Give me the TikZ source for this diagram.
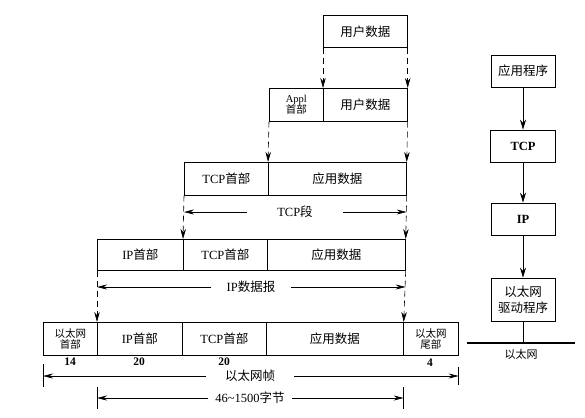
\documentclass[tikz,border=0pt]{standalone}
\usepackage{fontspec}
\setmainfont{Liberation Serif}
\newfontfamily\cjk{Noto Sans CJK SC}
\usetikzlibrary{arrows.meta}
\newcommand{\zh}[1]{{\cjk #1}}
\begin{document}
\begin{tikzpicture}[x=1pt,y=-1pt,
  box/.style={draw, line width=0.7pt, inner sep=0pt, anchor=north west, align=center,
              font=\fontsize{12.5}{14}\selectfont},
  small/.style={font=\fontsize{10.5}{11.5}\selectfont},
  num/.style={font=\fontsize{11.5}{12}\selectfont\bfseries},
  dimlab/.style={inner ysep=0pt, font=\fontsize{12.5}{14}\selectfont},
  darrow/.style={dashed, dash pattern=on 6pt off 4pt, line width=0.6pt, -{Stealth[length=10pt,width=5.5pt]}},
  dimarrow/.style={line width=0.6pt, -{Stealth[length=10pt,width=5pt]}},
  sarrow/.style={line width=0.7pt, -{Stealth[length=10pt,width=6pt]}},
  tick/.style={line width=0.6pt},
  sbox/.style={draw, line width=0.7pt, inner sep=0pt, align=center,
              font=\fontsize{12.5}{14}\selectfont}]
\useasboundingbox (0,0) rectangle (585,417);

% row 1
\node[box, minimum width=84pt, minimum height=32pt] (r1) at (323,15) {\zh{用户数据}};
% row 2
\node[box, minimum width=54pt, minimum height=33pt, small] (r2a) at (269,88) {Appl\\\zh{首部}};
\node[box, minimum width=84pt, minimum height=33pt] (r2b) at (323,88) {\zh{用户数据}};
% row 3
\node[box, minimum width=84pt, minimum height=33pt] (r3a) at (184,162) {TCP\zh{首部}};
\node[box, minimum width=138pt, minimum height=33pt] (r3b) at (268,162) {\zh{应用数据}};
% row 4
\node[box, minimum width=86pt, minimum height=31pt] (r4a) at (97,239) {IP\zh{首部}};
\node[box, minimum width=84pt, minimum height=31pt] (r4b) at (183,239) {TCP\zh{首部}};
\node[box, minimum width=138pt, minimum height=31pt] (r4c) at (267,239) {\zh{应用数据}};
% row 5
\node[box, minimum width=54pt, minimum height=33pt, small] (r5a) at (43,322) {\zh{以太网}\\\zh{首部}};
\node[box, minimum width=85pt, minimum height=33pt] (r5b) at (97,322) {IP\zh{首部}};
\node[box, minimum width=84pt, minimum height=33pt] (r5c) at (182,322) {TCP\zh{首部}};
\node[box, minimum width=137pt, minimum height=33pt] (r5d) at (266,322) {\zh{应用数据}};
\node[box, minimum width=55pt, minimum height=33pt, small] (r5e) at (403,322) {\zh{以太网}\\\zh{尾部}};

% byte counts
\node[num] (n14) at (70,362) {14};
\node[num] (n20a) at (139,362) {20};
\node[num] (n20b) at (224,362) {20};
\node[num] (n4) at (430,363) {4};

% dashed arrows between rows
\draw[darrow] (r1.south west) -- (r2b.north west);
\draw[darrow] (r1.south east) -- (r2b.north east);
\draw[darrow] (r2a.south west) -- (r3b.north west);
\draw[darrow] (r2b.south east) -- (r3b.north east);
\draw[darrow] (r3a.south west) -- (r4b.north west);
\draw[darrow] (r3b.south east) -- (r4c.north east);
\draw[darrow] (r4a.south west) -- (r5b.north west);
\draw[darrow] (r4c.south east) -- (r5d.north east);

% TCP segment
\node[dimlab, inner xsep=30pt] (tcpseg) at (295,212) {TCP\zh{段}};
\draw[dimarrow] (tcpseg.west) -- (tcpseg.west -| r3a.south west);
\draw[dimarrow] (tcpseg.east) -- (tcpseg.east -| r3b.south east);
% IP datagram
\node[dimlab, inner xsep=15pt] (ipdg) at (251,287) {IP\zh{数据报}};
\draw[dimarrow] (ipdg.west) -- (ipdg.west -| r4a.south west);
\draw[dimarrow] (ipdg.east) -- (ipdg.east -| r4c.south east);
% Ethernet frame
\node[dimlab, inner xsep=19pt] (eframe) at (250,376) {\zh{以太网帧}};
\draw[dimarrow] (eframe.west) -- (eframe.west -| r5a.south west);
\draw[dimarrow] (eframe.east) -- (eframe.east -| r5e.south east);
\draw[tick] (eframe.west -| r5a.south west) ++(0,-12) -- ++(0,23);
\draw[tick] (eframe.east -| r5e.south east) ++(0,-9) -- ++(0,18);
% 46~1500 bytes
\node[dimlab, inner xsep=7pt] (payload) at (250,398) {46\textasciitilde1500\zh{字节}};
\draw[dimarrow] (payload.west) -- (payload.west -| r5b.south west);
\draw[dimarrow] (payload.east) -- (payload.east -| r5d.south east);
\draw[tick] (payload.west -| r5b.south west) ++(0,-11) -- ++(0,22);
\draw[tick] (payload.east -| r5d.south east) ++(0,-11) -- ++(0,22);

% right-hand stack
\node[sbox, minimum width=64pt, minimum height=32pt] (app) at (523,71) {\zh{应用程序}};
\node[sbox, minimum width=65pt, minimum height=32pt, font=\fontsize{12.5}{14}\selectfont\bfseries] (tcp) at (523,146) {TCP};
\node[sbox, minimum width=64pt, minimum height=32pt, font=\fontsize{12.5}{14}\selectfont\bfseries] (ip) at (523,219) {IP};
\node[sbox, minimum width=64pt, minimum height=43pt] (drv) at (523,299.5) {\zh{以太网}\\[2pt]\zh{驱动程序}};
\draw[sarrow] (app.south) -- (tcp.north);
\draw[sarrow] (tcp.south) -- (ip.north);
\draw[sarrow] (ip.south) -- (drv.north);
\coordinate (busL) at (467,343);
\coordinate (busR) at (575,343);
\draw[line width=1.8pt] (busL) -- (busR);
\draw[line width=0.7pt] (drv.south) -- (drv.south |- busL);
\node[font=\fontsize{11}{12}\selectfont] (ethlab) at (521,354) {\zh{以太网}};
\end{tikzpicture}
\end{document}
